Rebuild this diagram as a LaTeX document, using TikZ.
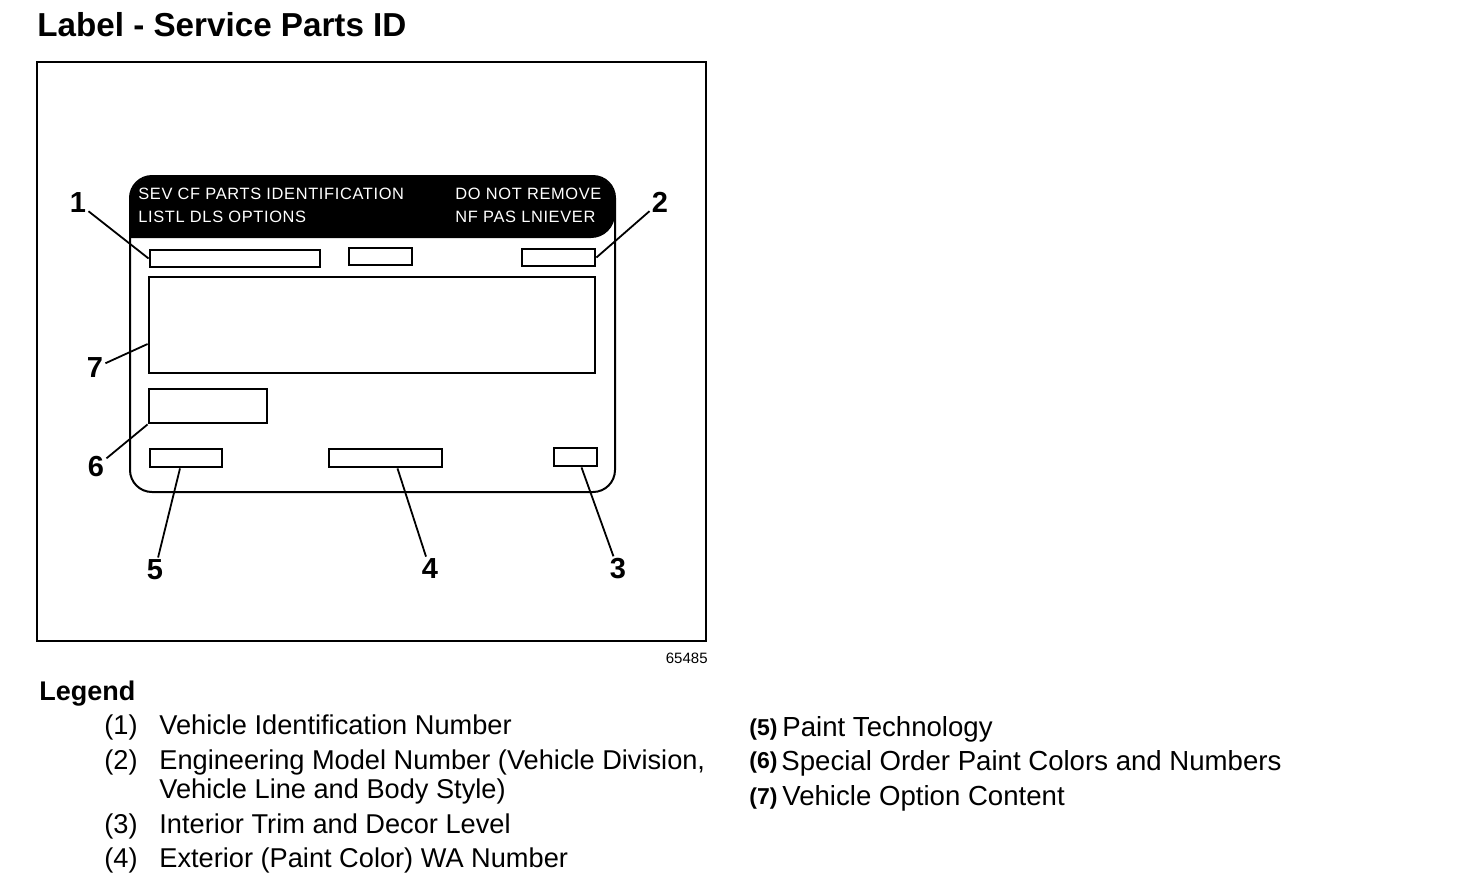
\documentclass[tikz,border=0pt]{standalone}
\usepackage{fontspec}
\setmainfont{Liberation Sans}
\newfontfamily\tagfont[LetterSpace=4]{Liberation Sans}
\usetikzlibrary{calc}

\begin{document}
\begin{tikzpicture}[
  x=0.5pt, y=-0.5pt,
  field/.style={draw, line width=1.4pt, inner sep=0pt},
  num/.style={font=\fontsize{14.5}{14.5}\selectfont\bfseries, inner sep=1pt},
  lead/.style={line width=0.9pt},
  hdr/.style={text=white, font=\tagfont\fontsize{8.2}{8.2}\selectfont, inner sep=0pt, anchor=base west},
  leg/.style={font=\fontsize{13.6}{13.6}\selectfont, inner sep=0pt, anchor=base west},
  legr/.style={font=\fontsize{13.8}{13.8}\selectfont, inner sep=0pt, anchor=base west},
  legb/.style={font=\fontsize{11.5}{11.5}\selectfont\bfseries, inner sep=0pt, anchor=base west},
]
\useasboundingbox (0,0) rectangle (1472,890);

% title and frame
\node[font=\fontsize{16.6}{16.6}\selectfont\bfseries, inner sep=0pt, anchor=base west] (title) at (37,36) {Label - Service Parts ID};
\draw[line width=1.3pt] (37,62) rectangle (706,641);
\node[font=\fontsize{7.5}{7.5}\selectfont, inner sep=0pt, anchor=base east] (code) at (708,663) {65485};

% the label itself
\draw[line width=1pt, rounded corners=11pt] (130,176) rectangle (615,492);
\fill (130,238) [rounded corners=12pt] |- (372,176) -| (615,238) [sharp corners] -- cycle;
\node[hdr] (h1) at (138,199) {SEV CF PARTS IDENTIFICATION};
\node[hdr] (h2) at (138,222) {LISTL DLS OPTIONS};
\node[hdr] (h3) at (455,199) {DO NOT REMOVE};
\node[hdr] (h4) at (455,222) {NF PAS LNIEVER};

% fields
\node[field, minimum width=85pt, minimum height=8.5pt] (vin) at (235,258.5) {};
\node[field, minimum width=31.5pt, minimum height=8.5pt] (mid) at (380.5,256.5) {};
\node[field, minimum width=36.5pt, minimum height=8.5pt] (emn) at (558.5,257.5) {};
\node[field, minimum width=223pt, minimum height=48pt] (opt) at (372,325) {};
\node[field, minimum width=59pt, minimum height=17pt] (spc) at (208,406) {};
\node[field, minimum width=36pt, minimum height=9pt] (pnt) at (186,458) {};
\node[field, minimum width=56.5pt, minimum height=9pt] (ext) at (385.5,458) {};
\node[field, minimum width=21.5pt, minimum height=9pt] (trim) at (575.5,457) {};

% callouts
\node[num] (n1) at (78,203) {1};
\node[num] (n2) at (660,202) {2};
\node[num] (n3) at (618,569) {3};
\node[num] (n4) at (430,569) {4};
\node[num] (n5) at (155,570) {5};
\node[num] (n6) at (96,467) {6};
\node[num] (n7) at (95,368) {7};
\draw[lead] (n1) -- (vin.west);
\draw[lead] (n2) -- (emn.east);
\draw[lead] (n3) -- ([xshift=3pt]trim.south);
\draw[lead] (n4) -- ([xshift=6pt]ext.south);
\draw[lead] (n5) -- ([xshift=-3pt]pnt.south);
\draw[lead] (n6) -- (spc.south west);
\draw[lead] (n7) -- ([yshift=-9.5pt]opt.west);

% legend
\node[font=\fontsize{13.5}{13.5}\selectfont\bfseries, inner sep=0pt, anchor=base west] (legend) at (39,700) {Legend};
\node[leg] (l1) at (104,734) {(1)};
\node[leg] (t1) at (159,734) {Vehicle Identification Number};
\node[leg] (l2) at (104,769) {(2)};
\node[leg] (t2) at (159,769) {Engineering Model Number (Vehicle Division,};
\node[leg] (t2b) at (159,798) {Vehicle Line and Body Style)};
\node[leg] (l3) at (104,833) {(3)};
\node[leg] (t3) at (159,833) {Interior Trim and Decor Level};
\node[leg] (l4) at (104,867) {(4)};
\node[leg] (t4) at (159,867) {Exterior (Paint Color) WA Number};
\node[legb] (l5) at (749,735) {(5)};
\node[legr] (t5) at (782,736) {Paint Technology};
\node[legb] (l6) at (749,768) {(6)};
\node[legr] (t6) at (781,770) {Special Order Paint Colors and Numbers};
\node[legb] (l7) at (749,804) {(7)};
\node[legr] (t7) at (782,805) {Vehicle Option Content};
\end{tikzpicture}
\end{document}
